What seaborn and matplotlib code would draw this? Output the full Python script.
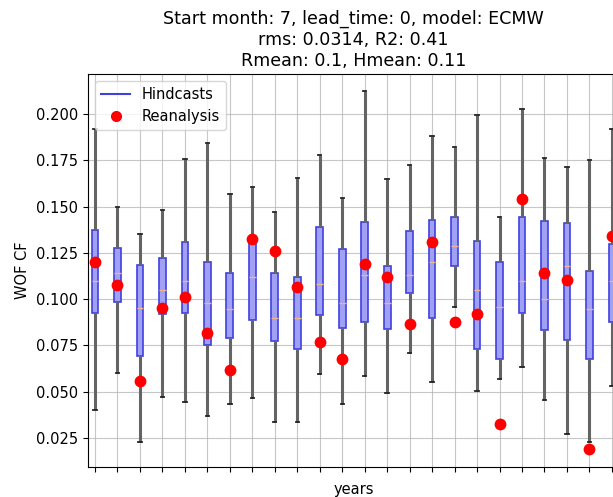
import pandas as pd
import matplotlib.pyplot as plt
import seaborn as sns
from matplotlib.lines import Line2D

# Hindcast ensemble statistics per year (min, q1, median, q3, max) and reanalysis value
years = [str(y) for y in range(1993, 2017)]
h_min = [0.040, 0.060, 0.023, 0.047, 0.0445, 0.037, 0.0434, 0.0467, 0.0337, 0.0337,
         0.0596, 0.0434, 0.0585, 0.0493, 0.0709, 0.0553, 0.0958, 0.0504, 0.0569, 0.0634,
         0.0456, 0.0272, 0.0229, 0.0531]
h_q1 = [0.0926, 0.0985, 0.0693, 0.092, 0.0925, 0.0753, 0.079, 0.0888, 0.0774, 0.073,
        0.0915, 0.0844, 0.0877, 0.0839, 0.1033, 0.0898, 0.118, 0.073, 0.0677, 0.0925,
        0.0834, 0.078, 0.0677, 0.0877]
h_med = [0.110, 0.114, 0.095, 0.105, 0.110, 0.098, 0.0947, 0.112, 0.0898, 0.0898,
         0.108, 0.098, 0.113, 0.098, 0.113, 0.120, 0.1287, 0.105, 0.0958, 0.110,
         0.100, 0.118, 0.0947, 0.110]
h_q3 = [0.1374, 0.1276, 0.1185, 0.1222, 0.1309, 0.120, 0.114, 0.131, 0.114, 0.112,
        0.139, 0.127, 0.1417, 0.118, 0.1368, 0.1428, 0.1444, 0.1314, 0.120, 0.1444,
        0.1422, 0.1411, 0.115, 0.130]
h_max = [0.192, 0.150, 0.1352, 0.148, 0.1757, 0.1843, 0.1568, 0.1606, 0.147, 0.1654,
         0.178, 0.1546, 0.2124, 0.1649, 0.1725, 0.188, 0.1822, 0.1995, 0.1444, 0.2027,
         0.1762, 0.1714, 0.1752, 0.192]
reanalysis = [0.120, 0.1077, 0.0558, 0.0952, 0.1012, 0.0817, 0.0618, 0.1325, 0.126, 0.1066,
              0.0769, 0.0677, 0.119, 0.112, 0.0866, 0.1309, 0.0877, 0.092, 0.0326, 0.154,
              0.114, 0.1104, 0.0191, 0.134]

# five points per year reproduce the quartiles exactly with whis=(0, 100)
rows = []
for i, y in enumerate(years):
    for v in (h_min[i], h_q1[i], h_med[i], h_q3[i], h_max[i]):
        rows.append({'year': y, 'cf': v})
df_h = pd.DataFrame(rows)
df_r = pd.DataFrame({'year': years, 'cf': reanalysis})

plt.rcParams['font.size'] = 10.5

fig = plt.figure(figsize=(6.13, 4.97), dpi=100)
ax = fig.add_axes([0.1436, 0.0604, 0.866, 0.7906])

sns.boxplot(data=df_h, x='year', y='cf', order=years, whis=(0, 100), width=0.3,
            fliersize=0, ax=ax,
            boxprops=dict(facecolor='#a0a0f4', edgecolor='#4040e0', linewidth=1.2),
            whiskerprops=dict(color='#646464', linewidth=2.2),
            capprops=dict(color='#222222', linewidth=1.3),
            medianprops=dict(color='#f2b48a', linewidth=1.0))
sns.stripplot(data=df_r, x='year', y='cf', order=years, jitter=False, color='red',
              size=8.5, ax=ax, zorder=5)

ax.set_xlim(-0.31, 23.31)
ax.set_ylim(0.0093, 0.2216)
ax.set_xticklabels([])
ax.grid(True, color='#b0b0b0', linewidth=0.8, alpha=0.7)
ax.set_axisbelow(True)
ax.set_xlabel('years')
ax.set_ylabel('WOF CF')
ax.set_title('Start month: 7, lead_time: 0, model: ECMW\nrms: 0.0314, R2: 0.41\n'
             'Rmean: 0.1, Hmean: 0.11', fontsize='large', pad=6)

handles = [Line2D([], [], color='#4040e0', linewidth=1.5),
           Line2D([], [], color='red', marker='o', linestyle='', markersize=7)]
ax.legend(handles, ['Hindcasts', 'Reanalysis'], loc='upper left')

plt.savefig('out.png', dpi=100)
plt.close()
